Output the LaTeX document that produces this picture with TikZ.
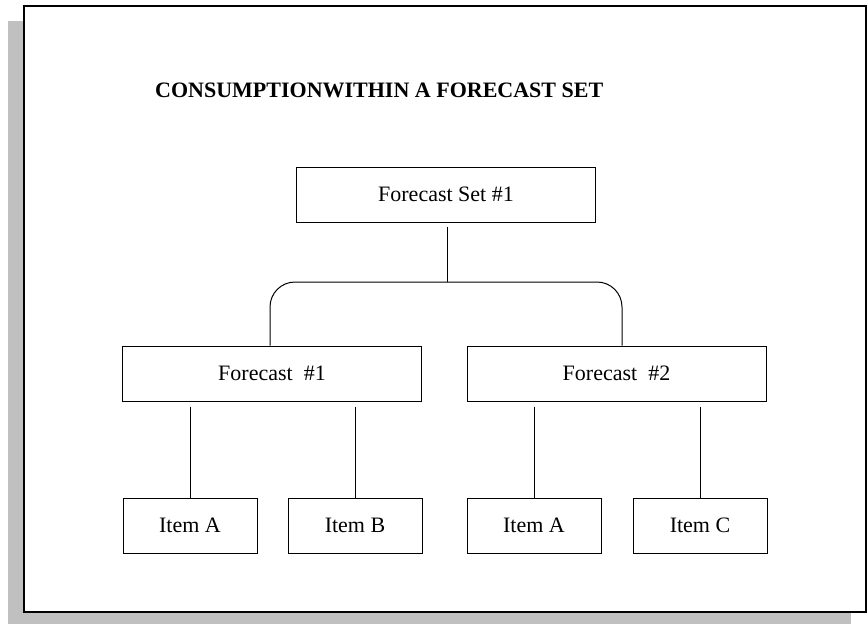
\documentclass[tikz,border=0pt]{standalone}
\usepackage{fontspec}
\setmainfont{Liberation Serif}
\begin{document}
\begin{tikzpicture}[x=1pt,y=-1pt,
  box/.style={draw=black,line width=1pt,fill=white,inner sep=0pt,minimum height=55pt,font=\fontsize{22}{26}\selectfont},
  wide/.style={box,minimum width=299pt},
  small/.style={box,minimum width=134pt},
  link/.style={draw=black,line width=1pt}]
\useasboundingbox (0,0) rectangle (867,624);
% shadow and frame
\fill[fill={rgb,255:red,192;green,192;blue,192}] (8,21) rectangle (851,624);
\draw[line width=2pt,fill=white] (24,5.7) rectangle (865.5,612);
% title
\node[anchor=base west,inner sep=0pt,font=\fontsize{22}{26}\selectfont\bfseries] (title) at (155,97.5) {CONSUMPTIONWITHIN A FORECAST SET};
% nodes
\node[wide] (set) at (446,194.5) {Forecast Set \#1};
\node[wide] (f1) at (272,373.5) {Forecast\ \ \#1};
\node[wide] (f2) at (616.5,373.5) {Forecast\ \ \#2};
\node[small] (i1) at (190,525.5) {Item A};
\node[small] (i2) at (355,525.5) {Item B};
\node[small] (i3) at (534,525.5) {Item A};
\node[small] (i4) at (700,525.5) {Item C};
% connectors
\coordinate (j) at (447,282);
\path[link] ([yshift=-4pt]set.south -| j) -- (j);
\path[link,rounded corners=25pt] ([xshift=-2pt]f1.north) |- (j) -| ([xshift=5.5pt]f2.north);
\path[link] ([yshift=-5pt]f1.south -| i1.north) -- (i1.north);
\path[link] ([yshift=-5pt]f1.south -| i2.north) -- (i2.north);
\path[link] ([yshift=-5pt]f2.south -| i3.north) -- (i3.north);
\path[link] ([yshift=-5pt]f2.south -| i4.north) -- (i4.north);
\end{tikzpicture}
\end{document}
